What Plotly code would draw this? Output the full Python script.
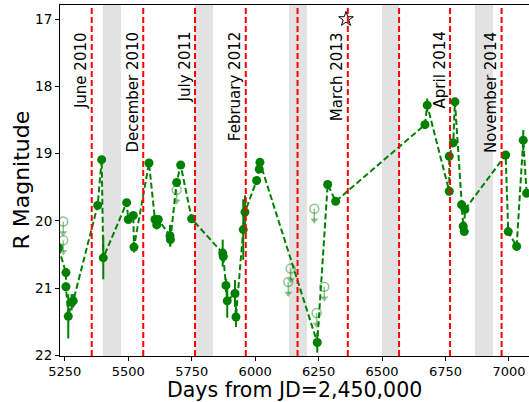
import plotly.graph_objects as go

# ---- data ----
det_days = [5225, 5254.5, 5254.5, 5263.6, 5277, 5283.3, 5379.4, 5395.2, 5401.5,
            5493.7, 5500, 5519.7, 5522.5, 5581.6, 5605.2, 5612, 5618.2, 5664.3, 5666,
            5690.7, 5706.5, 5749.8, 5872, 5874.3, 5884.9, 5890, 5920.4, 5924.3,
            5953.1, 5959.8, 6005.9, 6016, 6018.9, 6244.7, 6285.7, 6317.2,
            6669, 6678, 6764.8, 6764.8, 6780.5, 6787.2, 6813.6, 6819.9, 6824, 6826.6,
            6987, 6997.2, 7030.3, 7056.3, 7069.7]
det_mag = [20.40, 20.77, 20.98, 21.42, 21.21, 21.19, 19.77, 19.09, 20.55,
           19.73, 19.98, 19.92, 20.39, 19.14, 19.98, 20.06, 19.98, 20.22, 20.28,
           19.43, 19.17, 19.97, 20.48, 20.53, 20.96, 21.19, 21.08, 21.43,
           20.13, 19.87, 19.40, 19.23, 19.13, 21.81, 19.46, 19.71,
           18.57, 18.28, 19.56, 19.04, 18.84, 18.23, 19.76, 20.08, 20.16, 19.83,
           19.02, 20.16, 20.38, 18.80, 19.59]
det_err = [0.05, 0.06, 0.06, 0.33, 0.12, 0.1, 0.05, 0.05, 0.32,
           0.05, 0.05, 0.05, 0.08, 0.05, 0.05, 0.05, 0.05, 0.16, 0.1,
           0.05, 0.05, 0.05, 0.2, 0.1, 0.1, 0.25, 0.2, 0.15,
           0.45, 0.25, 0.05, 0.05, 0.05, 0.15, 0.05, 0.05,
           0.05, 0.1, 0.05, 0.05, 0.05, 0.05, 0.05, 0.05, 0.05, 0.05,
           0.05, 0.05, 0.05, 0.15, 0.05]

lim_days = [5243.9, 5243.9, 5690.7, 6139.9, 6130.4, 6232.9, 6272.3, 6242.3]
lim_mag = [20.01, 20.29, 19.54, 20.71, 20.91, 19.82, 20.98, 21.37]
arrow_len = 0.17

event_days = [5356, 5559, 5763, 5963, 6167, 6365, 6567, 6768, 6971]
event_labels = ["June 2010", "December 2010", "July 2011", "February 2012", "",
                "March 2013", "", "April 2014", "November 2014"]

band_start = [5400, 5763, 6133, 6500, 6866]
band_end = [5471, 5834, 6204, 6567, 6937]

star_day = [6358]
star_mag = [17.0]

x_ticks = [5250, 5500, 5750, 6000, 6250, 6500, 6750, 7000]
y_ticks = [17, 18, 19, 20, 21, 22]

GREEN = "#008000"
LGREEN = "rgba(0,128,0,0.45)"
FONT = "DejaVu Sans"

fig = go.Figure()

# shaded bands
for s, e in zip(band_start, band_end):
    fig.add_shape(type="rect", xref="x", yref="paper", x0=s, x1=e, y0=0, y1=1,
                  fillcolor="rgb(226,226,226)", line_width=0, layer="below")

# red dashed event lines
for d in event_days:
    fig.add_shape(type="line", xref="x", yref="paper", x0=d, x1=d, y0=0, y1=1,
                  line=dict(color="red", width=2, dash="6px,3px"), layer="above")

# event labels
for d, lab in zip(event_days, event_labels):
    if lab:
        fig.add_annotation(x=d, y=17.16, xref="x", yref="y", text=lab, showarrow=False,
                           textangle=-90, xanchor="right", yanchor="top", xshift=1,
                           font=dict(family=FONT, size=15, color="black"))

# detections
fig.add_trace(go.Scatter(
    x=det_days, y=det_mag, mode="lines+markers",
    line=dict(color=GREEN, width=2, dash="6px,3px"),
    marker=dict(color=GREEN, size=9, symbol="circle"),
    error_y=dict(type="data", array=det_err, color=GREEN, thickness=2, width=0),
    cliponaxis=True, showlegend=False))

# upper limits: open circles with downward arrows
fig.add_trace(go.Scatter(
    x=lim_days, y=lim_mag, mode="markers",
    marker=dict(color=LGREEN, size=9, symbol="circle-open", line=dict(width=1.5)),
    error_y=dict(type="data", symmetric=False, array=[arrow_len] * len(lim_mag),
                 arrayminus=[0] * len(lim_mag), color=LGREEN, thickness=1.5, width=0),
    showlegend=False))
fig.add_trace(go.Scatter(
    x=lim_days, y=[m + arrow_len for m in lim_mag], mode="markers",
    marker=dict(color=LGREEN, size=7, symbol="triangle-down"),
    showlegend=False))

# star
fig.add_trace(go.Scatter(
    x=star_day, y=star_mag, mode="markers",
    marker=dict(symbol="star-open", size=11, color="black", line=dict(color="black", width=1)),
    showlegend=False))

fig.update_layout(
    width=529, height=402,
    margin=dict(l=60, r=0, t=5, b=46),
    plot_bgcolor="white", paper_bgcolor="white",
    font=dict(family=FONT, size=13, color="black"),
    xaxis=dict(range=[5231, 7079], tickvals=x_ticks, ticks="outside", ticklen=3.5,
               tickwidth=1, tickcolor="black", showline=True, linecolor="black",
               linewidth=1, mirror=True, showgrid=False, zeroline=False,
               tickfont=dict(family=FONT, size=13)),
    yaxis=dict(range=[22.01, 16.79], tickvals=y_ticks, ticks="outside", ticklen=4,
               tickwidth=1, tickcolor="black", showline=True, linecolor="black",
               linewidth=1, mirror=False, showgrid=False, zeroline=False,
               tickfont=dict(family=FONT, size=13.5)),
)

fig.add_annotation(x=-0.083, y=0.5, xref="paper", yref="paper", text="R Magnitude",
                   textangle=-90, showarrow=False, xanchor="center", yanchor="middle",
                   font=dict(family=FONT, size=22, color="black"))
fig.add_annotation(x=0.5, y=-0.0969, xref="paper", yref="paper", text="Days from JD=2,450,000",
                   showarrow=False, xanchor="center", yanchor="middle",
                   borderpad=0,
                   font=dict(family=FONT, size=20.5, color="black"))

fig.write_html("out.html")
